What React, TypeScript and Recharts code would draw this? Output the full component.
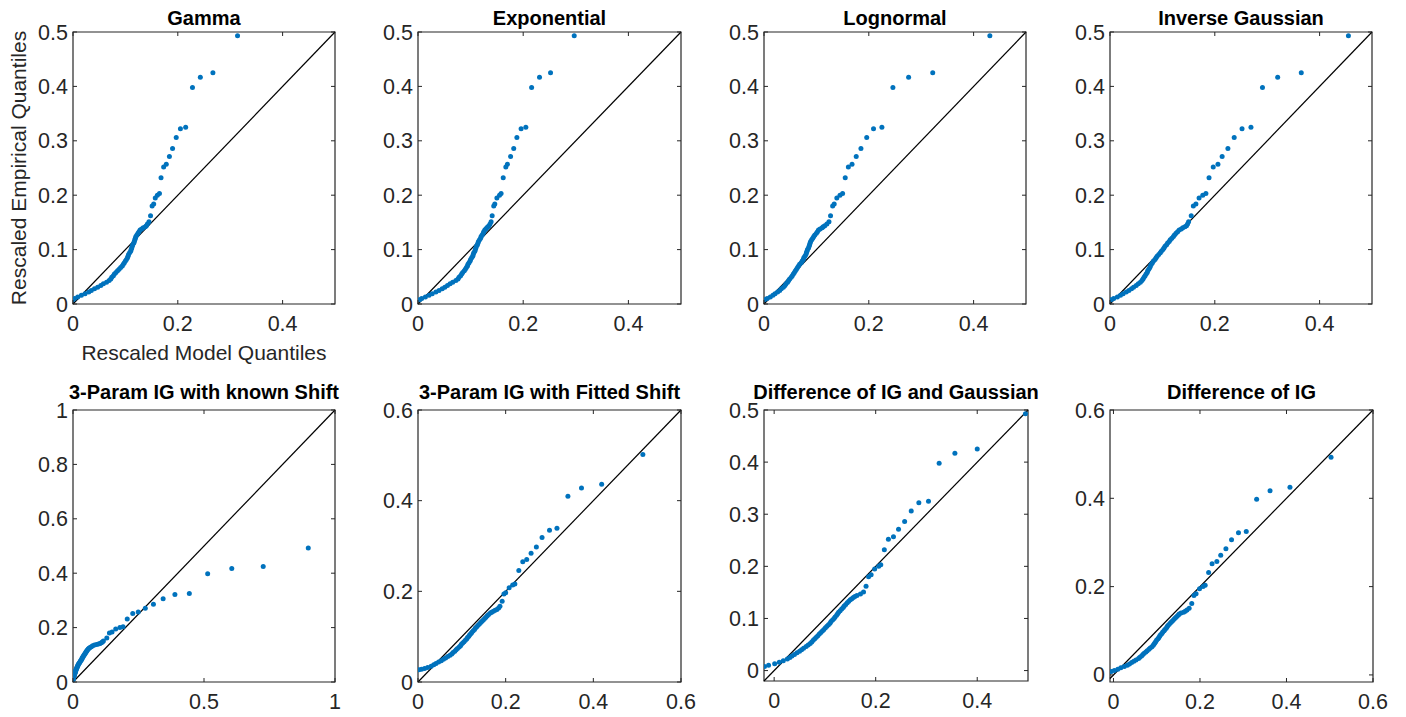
import React from 'react';
import { ScatterChart, Scatter, XAxis, YAxis, ReferenceLine, ReferenceArea } from 'recharts';

// Empirical (rescaled) quantiles shared by most panels: sparse tail then dense body
const EMP_Y = [
  0.493, 0.425, 0.417, 0.398, 0.325, 0.322, 0.306, 0.286, 0.271, 0.257, 0.252, 0.232, 0.203, 0.2, 0.195, 0.184, 0.18, 0.162, 0.151,
  0.147, 0.144, 0.142, 0.14, 0.138, 0.136,
  0.133, 0.13, 0.127, 0.124, 0.121, 0.118, 0.115, 0.112, 0.109, 0.106, 0.103, 0.1,
  0.097, 0.094, 0.091, 0.088, 0.085, 0.082, 0.079, 0.076, 0.073, 0.07,
  0.067, 0.064, 0.061, 0.058, 0.055, 0.052, 0.049, 0.046, 0.043, 0.04,
  0.037, 0.034, 0.031, 0.028, 0.025, 0.022, 0.019, 0.016, 0.013, 0.01, 0.008,
];

// Empirical quantiles for the fitted-shift panel
const FITTED_SHIFT_Y = [
  0.502, 0.436, 0.428, 0.41, 0.339, 0.335, 0.319, 0.298, 0.284, 0.27, 0.265, 0.246, 0.216, 0.214, 0.208, 0.197, 0.194, 0.178, 0.167,
  0.163, 0.16, 0.158, 0.156, 0.154, 0.152,
  0.149, 0.146, 0.143, 0.14, 0.137, 0.134, 0.131, 0.128, 0.125, 0.122, 0.119, 0.116,
  0.113, 0.11, 0.107, 0.104, 0.101, 0.098, 0.095, 0.092, 0.089, 0.086,
  0.083, 0.08, 0.077, 0.074, 0.071, 0.068, 0.065, 0.062, 0.059, 0.056,
  0.053, 0.05, 0.047, 0.044, 0.041, 0.038, 0.035, 0.032, 0.03, 0.028, 0.027,
];

// Model quantiles per panel
const GAMMA_X = [
  0.314, 0.267, 0.243, 0.228, 0.215, 0.205, 0.197, 0.19, 0.184, 0.178, 0.173, 0.168, 0.165, 0.161, 0.157, 0.154, 0.151, 0.148, 0.145,
  0.142, 0.14, 0.138, 0.134, 0.131, 0.128,
  0.126, 0.124, 0.122, 0.12, 0.119, 0.118, 0.117, 0.116, 0.114, 0.113, 0.112, 0.111,
  0.11, 0.108, 0.106, 0.105, 0.104, 0.102, 0.1, 0.098, 0.096, 0.094,
  0.091, 0.088, 0.085, 0.082, 0.079, 0.077, 0.074, 0.072, 0.069, 0.064,
  0.058, 0.053, 0.047, 0.041, 0.035, 0.03, 0.023, 0.016, 0.009, 0.003, 0.0,
];
const EXPONENTIAL_X = [
  0.297, 0.252, 0.231, 0.216, 0.205, 0.196, 0.188, 0.182, 0.176, 0.17, 0.167, 0.162, 0.158, 0.155, 0.15, 0.146, 0.144, 0.141, 0.139,
  0.137, 0.135, 0.133, 0.131, 0.129, 0.127,
  0.125, 0.124, 0.122, 0.12, 0.119, 0.117, 0.115, 0.114, 0.113, 0.111, 0.11, 0.109,
  0.108, 0.106, 0.105, 0.104, 0.102, 0.1, 0.099, 0.097, 0.095, 0.094,
  0.092, 0.09, 0.088, 0.085, 0.083, 0.081, 0.078, 0.076, 0.072, 0.066,
  0.061, 0.056, 0.051, 0.046, 0.04, 0.034, 0.027, 0.021, 0.014, 0.007, 0.003,
];
const LOGNORMAL_X = [
  0.431, 0.322, 0.276, 0.246, 0.225, 0.209, 0.196, 0.185, 0.176, 0.168, 0.161, 0.155, 0.15, 0.145, 0.139, 0.134, 0.131, 0.127, 0.124,
  0.12, 0.116, 0.113, 0.111, 0.107, 0.104,
  0.102, 0.1, 0.097, 0.095, 0.093, 0.091, 0.089, 0.088, 0.087, 0.086, 0.085, 0.083,
  0.082, 0.081, 0.08, 0.078, 0.076, 0.075, 0.073, 0.071, 0.068, 0.066,
  0.064, 0.062, 0.06, 0.058, 0.056, 0.054, 0.052, 0.049, 0.047, 0.045,
  0.042, 0.04, 0.037, 0.033, 0.03, 0.026, 0.021, 0.017, 0.012, 0.006, 0.001,
];
const INV_GAUSS_X = [
  0.455, 0.365, 0.32, 0.291, 0.269, 0.252, 0.237, 0.225, 0.214, 0.206, 0.197, 0.189, 0.183, 0.177, 0.17, 0.164, 0.159, 0.155, 0.15,
  0.148, 0.146, 0.143, 0.139, 0.136, 0.132,
  0.129, 0.126, 0.123, 0.121, 0.118, 0.115, 0.113, 0.11, 0.108, 0.105, 0.103, 0.101,
  0.098, 0.096, 0.093, 0.09, 0.088, 0.086, 0.083, 0.081, 0.079, 0.077,
  0.076, 0.074, 0.072, 0.071, 0.069, 0.067, 0.065, 0.063, 0.061, 0.058,
  0.054, 0.05, 0.045, 0.041, 0.036, 0.031, 0.025, 0.02, 0.014, 0.007, 0.002,
];
const KNOWN_SHIFT_X = [
  0.898, 0.726, 0.606, 0.514, 0.444, 0.389, 0.344, 0.307, 0.276, 0.249, 0.228, 0.207, 0.191, 0.179, 0.163, 0.149, 0.139, 0.129, 0.116,
  0.112, 0.108, 0.103, 0.097, 0.09, 0.082,
  0.075, 0.07, 0.065, 0.061, 0.058, 0.055, 0.053, 0.051, 0.049, 0.047, 0.045, 0.043,
  0.041, 0.039, 0.037, 0.035, 0.034, 0.032, 0.03, 0.028, 0.026, 0.024,
  0.022, 0.02, 0.019, 0.017, 0.016, 0.015, 0.013, 0.012, 0.011, 0.01,
  0.009, 0.008, 0.007, 0.006, 0.005, 0.004, 0.003, 0.002, 0.001, 0.001, 0.0,
];
const FITTED_SHIFT_X = [
  0.513, 0.419, 0.373, 0.342, 0.317, 0.3, 0.283, 0.27, 0.258, 0.248, 0.239, 0.23, 0.221, 0.216, 0.208, 0.2, 0.196, 0.192, 0.187,
  0.184, 0.18, 0.176, 0.172, 0.168, 0.165,
  0.161, 0.158, 0.155, 0.152, 0.149, 0.146, 0.143, 0.14, 0.137, 0.134, 0.131, 0.129,
  0.126, 0.123, 0.121, 0.118, 0.116, 0.113, 0.111, 0.108, 0.105, 0.102,
  0.099, 0.097, 0.094, 0.09, 0.087, 0.084, 0.08, 0.077, 0.073, 0.068,
  0.063, 0.058, 0.053, 0.047, 0.041, 0.036, 0.03, 0.022, 0.015, 0.008, 0.002,
];
const DIFF_IG_GAUSS_X = [
  0.495, 0.4, 0.356, 0.325, 0.304, 0.285, 0.27, 0.257, 0.245, 0.235, 0.225, 0.217, 0.21, 0.206, 0.198, 0.191, 0.186, 0.181, 0.176,
  0.17, 0.163, 0.159, 0.156, 0.153, 0.15,
  0.147, 0.144, 0.141, 0.138, 0.136, 0.133, 0.13, 0.127, 0.125, 0.123, 0.12, 0.118,
  0.115, 0.112, 0.11, 0.107, 0.104, 0.101, 0.098, 0.095, 0.092, 0.089,
  0.086, 0.083, 0.08, 0.077, 0.074, 0.071, 0.067, 0.063, 0.058, 0.054,
  0.05, 0.045, 0.04, 0.035, 0.031, 0.026, 0.018, 0.01, 0.001, -0.011, -0.019,
];
const DIFF_IG_X = [
  0.503, 0.408, 0.362, 0.331, 0.307, 0.289, 0.273, 0.26, 0.248, 0.239, 0.228, 0.22, 0.212, 0.207, 0.199, 0.191, 0.186, 0.181, 0.175,
  0.17, 0.166, 0.162, 0.156, 0.152, 0.15,
  0.147, 0.144, 0.141, 0.138, 0.135, 0.132, 0.129, 0.126, 0.124, 0.122, 0.119, 0.117,
  0.114, 0.112, 0.109, 0.107, 0.105, 0.103, 0.1, 0.098, 0.096, 0.094,
  0.092, 0.089, 0.085, 0.082, 0.078, 0.075, 0.071, 0.068, 0.065, 0.061,
  0.058, 0.052, 0.047, 0.042, 0.037, 0.032, 0.025, 0.017, 0.01, 0.002, -0.005,
];

const TITLES = [
  'Gamma', 'Exponential', 'Lognormal', 'Inverse Gaussian',
  '3-Param IG with known Shift', '3-Param IG with Fitted Shift', 'Difference of IG and Gaussian', 'Difference of IG',
];

const Y_TICKS_05 = [0, 0.1, 0.2, 0.3, 0.4, 0.5];
const X_TICKS_05 = [0, 0.2, 0.4];
const TICKS_1 = [0, 0.2, 0.4, 0.6, 0.8, 1];
const X_TICKS_1 = [0, 0.5, 1];
const TICKS_06 = [0, 0.2, 0.4, 0.6];

const AXIS_COLOR = '#262626';
const DOT_COLOR = '#0072BD';
const FONT = '"Liberation Sans", Arial, Helvetica, sans-serif';
const TL = 62, TT = 16, TR = 20, TB = 40, TICK_LEN = 4;

type Cfg = {
  title: string;
  box: [number, number, number, number];
  xDomain: [number, number];
  yDomain: [number, number];
  xTicks: number[];
  yTicks: number[];
  xs: number[];
  ys: number[];
};

const PANELS: Cfg[] = [
  { title: TITLES[0], box: [73, 32, 262, 272], xDomain: [0, 0.5], yDomain: [0, 0.5], xTicks: X_TICKS_05, yTicks: Y_TICKS_05, xs: GAMMA_X, ys: EMP_Y },
  { title: TITLES[1], box: [418, 32, 263, 272], xDomain: [0, 0.5], yDomain: [0, 0.5], xTicks: X_TICKS_05, yTicks: Y_TICKS_05, xs: EXPONENTIAL_X, ys: EMP_Y },
  { title: TITLES[2], box: [764, 32, 262, 272], xDomain: [0, 0.5], yDomain: [0, 0.5], xTicks: X_TICKS_05, yTicks: Y_TICKS_05, xs: LOGNORMAL_X, ys: EMP_Y },
  { title: TITLES[3], box: [1110, 32, 262, 272], xDomain: [0, 0.5], yDomain: [0, 0.5], xTicks: X_TICKS_05, yTicks: Y_TICKS_05, xs: INV_GAUSS_X, ys: EMP_Y },
  { title: TITLES[4], box: [73, 410, 262, 272], xDomain: [0, 1], yDomain: [0, 1], xTicks: X_TICKS_1, yTicks: TICKS_1, xs: KNOWN_SHIFT_X, ys: EMP_Y },
  { title: TITLES[5], box: [418, 410, 263, 272], xDomain: [0, 0.6], yDomain: [0, 0.6], xTicks: TICKS_06, yTicks: TICKS_06, xs: FITTED_SHIFT_X, ys: FITTED_SHIFT_Y },
  { title: TITLES[6], box: [764, 410, 264, 271], xDomain: [-0.02, 0.5], yDomain: [-0.02, 0.5], xTicks: X_TICKS_05, yTicks: Y_TICKS_05, xs: DIFF_IG_GAUSS_X, ys: EMP_Y },
  { title: TITLES[7], box: [1110, 410, 263, 272], xDomain: [-0.008, 0.6], yDomain: [-0.016, 0.6], xTicks: TICKS_06, yTicks: TICKS_06, xs: DIFF_IG_X, ys: EMP_Y },
];

const fmt = (v: number) => String(v);

function Panel({ cfg }: { cfg: Cfg }) {
  const { box, xDomain, yDomain, xTicks, yTicks, xs, ys } = cfg;
  const [left, top, w, h] = box;
  const data = xs.map((x, i) => ({ x, y: ys[i] }));
  const lo = Math.max(xDomain[0], yDomain[0]);
  const hi = Math.min(xDomain[1], yDomain[1]);

  const XTick = (props: any) => {
    const { x, y, payload } = props;
    return (
      <g>
        <line x1={x} y1={y} x2={x} y2={y - TICK_LEN} stroke={AXIS_COLOR} strokeWidth={1} />
        <line x1={x} y1={y - h} x2={x} y2={y - h + TICK_LEN} stroke={AXIS_COLOR} strokeWidth={1} />
        <text x={x} y={y + 26.5} textAnchor="middle" fill={AXIS_COLOR} fontSize={21.5} fontFamily={FONT}>
          {fmt(payload.value)}
        </text>
      </g>
    );
  };
  const YTick = (props: any) => {
    const { x, y, payload } = props;
    return (
      <g>
        <line x1={x} y1={y} x2={x + TICK_LEN} y2={y} stroke={AXIS_COLOR} strokeWidth={1} />
        <line x1={x + w} y1={y} x2={x + w - TICK_LEN} y2={y} stroke={AXIS_COLOR} strokeWidth={1} />
        <text x={x - 5} y={y + 7.5} textAnchor="end" fill={AXIS_COLOR} fontSize={21.5} fontFamily={FONT}>
          {fmt(payload.value)}
        </text>
      </g>
    );
  };

  return (
    <div style={{ position: 'absolute', left: left - TL, top: top - TT }}>
      <ScatterChart width={w + TL + TR} height={h + TT + TB} margin={{ top: TT, right: TR, bottom: 0, left: 0 }}>
        <XAxis
          type="number"
          dataKey="x"
          domain={xDomain}
          allowDataOverflow
          ticks={xTicks}
          interval={0}
          tickLine={false}
          axisLine={false}
          tickSize={0}
          tickMargin={0}
          height={TB}
          tick={XTick}
        />
        <YAxis
          type="number"
          dataKey="y"
          domain={yDomain}
          allowDataOverflow
          ticks={yTicks}
          interval={0}
          tickLine={false}
          axisLine={false}
          tickSize={0}
          tickMargin={0}
          width={TL}
          tick={YTick}
        />
        <ReferenceArea
          x1={xDomain[0]}
          x2={xDomain[1]}
          y1={yDomain[0]}
          y2={yDomain[1]}
          fill="none"
          fillOpacity={0}
          stroke={AXIS_COLOR}
          strokeWidth={1.2}
          strokeOpacity={1}
          ifOverflow="visible"
        />
        <Scatter
          data={data}
          isAnimationActive={false}
          shape={(p: any) => <circle cx={p.cx} cy={p.cy} r={2.5} fill={DOT_COLOR} />}
        />
        <ReferenceLine
          segment={[{ x: lo, y: lo }, { x: hi, y: hi }]}
          stroke="#000000"
          strokeWidth={1.2}
          ifOverflow="visible"
        />
      </ScatterChart>
    </div>
  );
}

export default function App() {
  return (
    <div style={{ position: 'absolute', left: 0, top: 0, width: 1406, height: 717, background: '#ffffff', overflow: 'hidden' }}>
      {PANELS.map((cfg, i) => (
        <Panel key={i} cfg={cfg} />
      ))}
      <svg width={1406} height={717} style={{ position: 'absolute', left: 0, top: 0, pointerEvents: 'none' }}>
        {PANELS.map((cfg, i) => {
          const [left, top, w] = cfg.box;
          return (
            <text
              key={i}
              x={left + w / 2}
              y={i < 4 ? 25 : 399}
              textAnchor="middle"
              fontSize={20}
              fontWeight="bold"
              fontFamily={FONT}
              fill="#000000"
            >
              {cfg.title}
            </text>
          );
        })}
        <text
          x={26}
          y={168}
          transform="rotate(-90 26 168)"
          textAnchor="middle"
          fontSize={21}
          fontFamily={FONT}
          fill={AXIS_COLOR}
        >
          Rescaled Empirical Quantiles
        </text>
        <text x={204} y={360} textAnchor="middle" fontSize={21} fontFamily={FONT} fill={AXIS_COLOR}>
          Rescaled Model Quantiles
        </text>
      </svg>
    </div>
  );
}
